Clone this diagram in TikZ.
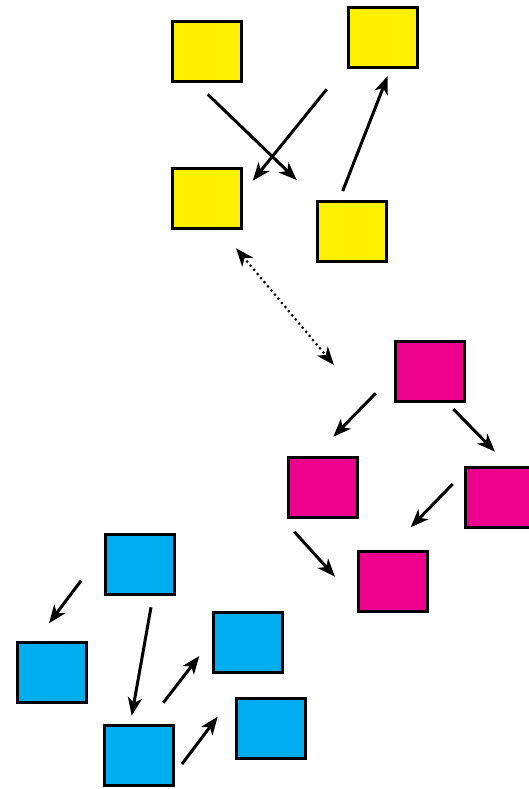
\documentclass[tikz,border=0pt]{standalone}
\usetikzlibrary{arrows.meta}
\definecolor{procyellow}{HTML}{FFF100}
\definecolor{procmagenta}{HTML}{EC008C}
\definecolor{proccyan}{HTML}{00AEEF}
\tikzset{
  box/.style={draw,line width=3pt,minimum width=69pt,minimum height=60pt,inner sep=0,outer sep=0},
  arr/.style={-{Stealth[length=18pt,width=14pt,inset=5pt]},line width=3pt},
  dotarr/.style={{Stealth[length=18pt,width=14pt,inset=5pt]}-{Stealth[length=18pt,width=14pt,inset=5pt]},line width=3pt,line cap=round,dash pattern=on 0pt off 5.4pt}
}
\begin{document}
\begin{tikzpicture}[x=1pt,y=-1pt]
\useasboundingbox (0,0) rectangle (529,789);
\clip (0,0) rectangle (529,789);
\node (y1) at (207,52) [box,fill=procyellow] {};
\node (y2) at (383,37.3) [box,fill=procyellow] {};
\node (y3) at (207,198.7) [box,fill=procyellow] {};
\node (y4) at (351.7,231) [box,fill=procyellow] {};
\node (m1) at (429.7,371.3) [box,fill=procmagenta] {};
\node (m2) at (322.7,487) [box,fill=procmagenta] {};
\node (m3) at (499.5,497.2) [box,fill=procmagenta] {};
\node (m4) at (393,581.2) [box,fill=procmagenta] {};
\node (c1) at (140.3,564.3) [box,fill=proccyan] {};
\node (c2) at (51.7,672.5) [box,fill=proccyan] {};
\node (c3) at (248.2,642.3) [box,fill=proccyan] {};
\node (c4) at (138.7,755.3) [box,fill=proccyan] {};
\node (c5) at (270.7,728.7) [box,fill=proccyan] {};
\coordinate (y1out) at (207.7,94.3);
\coordinate (y4in) at (296.7,180);
\coordinate (y2out) at (326.7,89.3);
\coordinate (y3in) at (252.7,180.7);
\coordinate (y4out) at (342.7,191);
\coordinate (y2in) at (387.7,76);
\coordinate (y3link) at (236,248.3);
\coordinate (m1link) at (334,365);
\coordinate (m1outa) at (375.7,393.3);
\coordinate (m2in) at (333.3,436.7);
\coordinate (m1outb) at (453.3,409);
\coordinate (m3in) at (495,451.7);
\coordinate (m3out) at (452.7,484);
\coordinate (m4ina) at (410.7,527.3);
\coordinate (m2out) at (294.3,531.7);
\coordinate (m4inb) at (335,576.7);
\coordinate (c1outa) at (81,580.7);
\coordinate (c2in) at (49,623.3);
\coordinate (c1outb) at (151,607.3);
\coordinate (c4in) at (131.7,715.7);
\coordinate (c4outa) at (163.3,702.7);
\coordinate (c3in) at (199.3,656);
\coordinate (c4outb) at (182,764);
\coordinate (c5in) at (217.7,716.7);
\draw[arr] (y1out) -- (y4in);
\draw[arr] (y2out) -- (y3in);
\draw[arr] (y4out) -- (y2in);
\draw[dotarr] (y3link) -- (m1link);
\draw[arr] (m1outa) -- (m2in);
\draw[arr] (m1outb) -- (m3in);
\draw[arr] (m3out) -- (m4ina);
\draw[arr] (m2out) -- (m4inb);
\draw[arr] (c1outa) -- (c2in);
\draw[arr] (c1outb) -- (c4in);
\draw[arr] (c4outa) -- (c3in);
\draw[arr] (c4outb) -- (c5in);
\end{tikzpicture}
\end{document}
